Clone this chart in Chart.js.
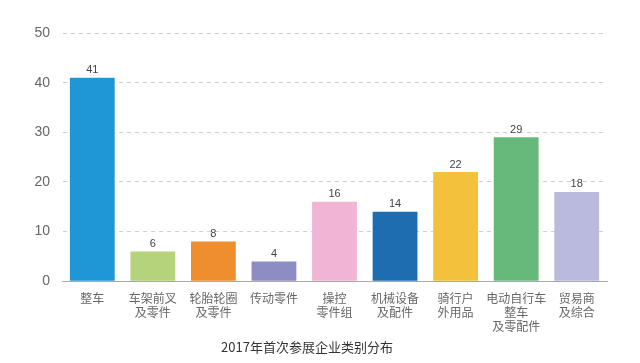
<!DOCTYPE html>
<html>
<head>
<meta charset="utf-8">
<script src="https://cdn.jsdelivr.net/npm/chart.js@4/dist/chart.umd.min.js"></script>
<style>
  html, body { margin: 0; padding: 0; background: #fff; }
  #wrap { width: 640px; height: 363px; }
</style>
</head>
<body>
<div id="wrap"><canvas id="bar-chart"></canvas></div>
<script>
// categories (multi-line labels)
var categories = [
    ["整车"],
    ["车架前叉", "及零件"],
    ["轮胎轮圈", "及零件"],
    ["传动零件"],
    ["操控", "零件组"],
    ["机械设备", "及配件"],
    ["骑行户", "外用品"],
    ["电动自行车", "整车", "及零配件"],
    ["贸易商", "及综合"]
];
var counts = [41, 6, 8, 4, 16, 14, 22, 29, 18];
var barColors = ["#1f96d5", "#b4d37a", "#ee8e2e", "#8b8dc4", "#f2b4d4", "#1e6db0", "#f3c13b", "#67b97b", "#babade"];
var yTicks = { min: 0, max: 50, step: 10 };

// value labels above each bar
var valueLabels = {
    id: 'valueLabels',
    afterDatasetsDraw: function (chart) {
        var ctx = chart.ctx;
        var meta = chart.getDatasetMeta(0);
        ctx.save();
        ctx.font = '11px "Liberation Sans", Arial, sans-serif';
        ctx.fillStyle = '#444';
        ctx.textAlign = 'center';
        ctx.textBaseline = 'bottom';
        meta.data.forEach(function (bar, i) {
            ctx.fillText(counts[i], bar.x, bar.y - 2);
        });
        ctx.restore();
    }
};

new Chart(document.getElementById("bar-chart"), {
    type: 'bar',
    data: {
        labels: categories,
        datasets: [{
            data: counts,
            backgroundColor: barColors,
            barPercentage: 0.74,
            categoryPercentage: 1
        }]
    },
    options: {
        responsive: true,
        maintainAspectRatio: false,
        animation: false,
        layout: { padding: { left: 7, right: 33, top: 33, bottom: 0 } },
        plugins: {
            legend: { display: false },
            tooltip: { enabled: false },
            title: {
                display: true,
                position: 'bottom',
                text: '2017年首次参展企业类别分布',
                color: '#333',
                font: { size: 13, weight: 'normal', family: '"Noto Sans CJK SC", sans-serif' },
                padding: { top: -4, bottom: 8 }
            }
        },
        scales: {
            x: {
                grid: { display: false, drawTicks: false },
                border: { display: true, color: '#aaa' },
                ticks: {
                    color: '#666',
                    padding: 10,
                    maxRotation: 0,
                    autoSkip: false,
                    font: { size: 12, family: '"Noto Sans CJK SC", sans-serif', lineHeight: 1.17 }
                }
            },
            y: {
                min: yTicks.min,
                max: yTicks.max,
                afterFit: function (scale) { scale.width = 55; },
                grid: { color: '#cfcfcf', drawTicks: false },
                border: { display: true, color: 'rgba(0,0,0,0)', dash: [4, 4] },
                ticks: {
                    stepSize: yTicks.step,
                    color: '#666',
                    padding: 12,
                    font: { size: 14, family: '"Liberation Sans", Arial, sans-serif' }
                }
            }
        }
    },
    plugins: [valueLabels]
});
</script>
</body>
</html>
